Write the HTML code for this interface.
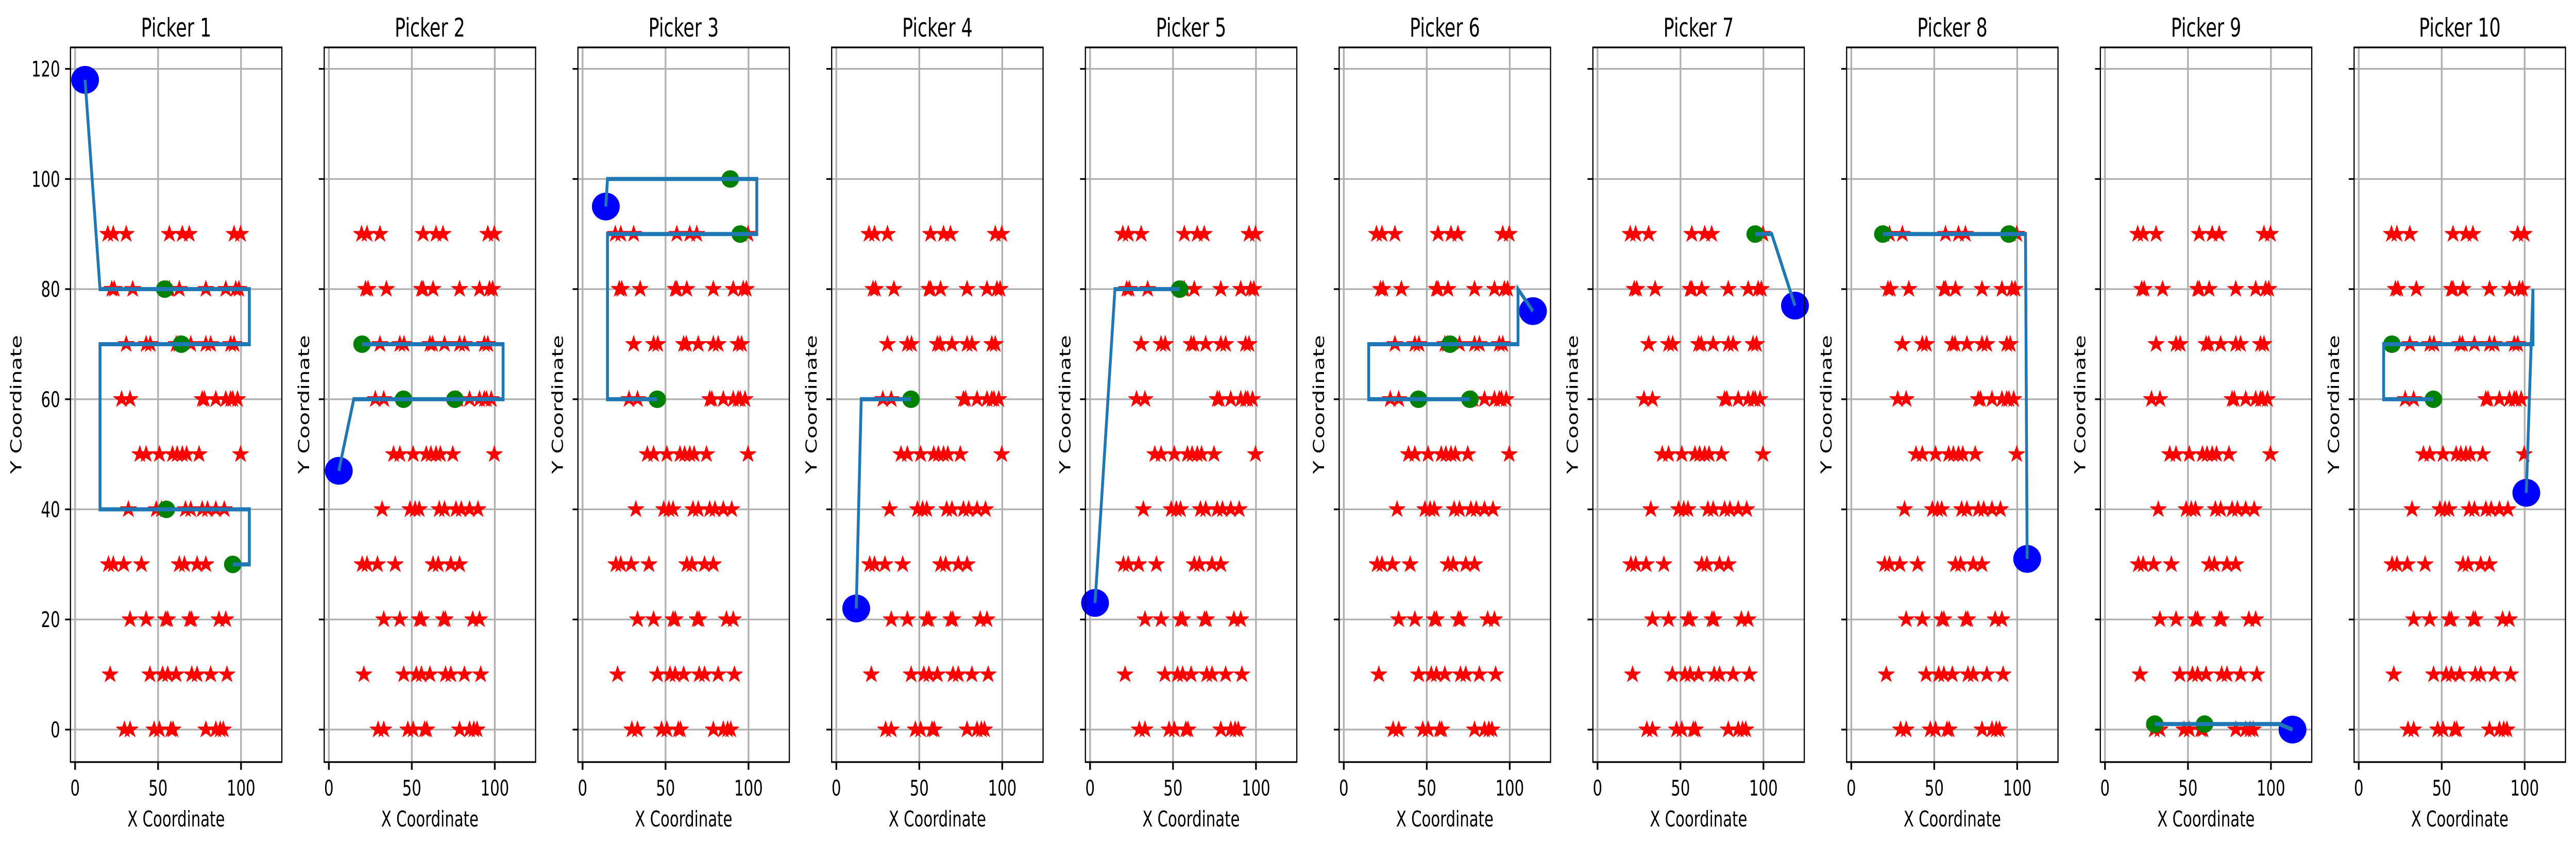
<!DOCTYPE html>
<html><head><meta charset="utf-8"><style>
html,body{margin:0;padding:0;background:#fff;overflow:hidden;width:100vw;height:100vh;}
svg{display:block;width:100vw;height:100vh;font-family:"DejaVu Sans","Liberation Sans",sans-serif;}
</style></head><body>
<svg id="fig" viewBox="0 0 7202 1638" preserveAspectRatio="none" xmlns="http://www.w3.org/2000/svg"></svg>
<script>
// Item (star) locations shared by all pickers
const starRows = [90,80,70,60,50,40,30,20,10,0];
const starRowX = [
  [19.7,23.0,30.8,56.8,64.6,68.8,95.8,99.7],
  [22.1,23.6,34.7,55.8,56.8,62.8,78.8,90.8,96.8,98.7],
  [30.8,42.8,45.3,60.9,62.5,69.7,78.8,81.7,93.7,95.8],
  [28.0,33.1,76.6,77.9,84.8,90.8,93.7,95.0,97.9],
  [39.0,42.8,50.8,58.7,61.5,64.6,67.2,74.7,99.7],
  [32.1,48.9,52.0,54.5,66.5,69.7,76.6,79.8,84.8,89.9],
  [20.1,23.0,29.3,40.0,62.8,65.9,73.5,78.8],
  [33.1,42.8,54.5,55.8,69.0,70.2,86.7,90.8],
  [21.1,45.1,52.7,55.8,60.9,70.3,73.5,81.7,91.5],
  [29.7,33.1,47.6,50.8,57.7,59.0,78.8,84.8,87.4,89.3]
];
// Picker routes
const pickerNames = ["Picker 1","Picker 2","Picker 3","Picker 4","Picker 5","Picker 6","Picker 7","Picker 8","Picker 9","Picker 10"];
const routeX = [
  [6,15,105,105,15,15,105,105,95],
  [6,15,105,105,20],
  [14,15,105,105,15,15,45],
  [12,15,45],
  [3,15,54],
  [114,105,105,15,15,76],
  [119,105,95],
  [106,105,19],
  [113,105,30],
  [101,105,105,15,15,45]
];
const routeY = [
  [118,80,80,70,70,40,40,30,30],
  [47,60,60,70,70],
  [95,100,100,90,90,60,60],
  [22,60,60],
  [23,80,80],
  [76,80,70,70,60,60],
  [77,90,90],
  [31,90,90],
  [0,1,1],
  [43,80,70,70,60,60]
];
const startX = [6,6,14,12,3,114,119,106,113,101];
const startY = [118,47,95,22,23,76,77,31,0,43];
const pickX = [[54,64,55,95],[20,45,76],[89,95,45],[45],[54],[64,45,76],[95],[19,95],[30,60],[20,45]];
const pickY = [[80,70,40,30],[70,60,60],[100,90,60],[60],[80],[70,60,60],[90],[90,90],[1,1],[70,60]];
const xTicks = [0,50,100];
const yTicks = [0,20,40,60,80,100,120];

const NS="http://www.w3.org/2000/svg";
const svg=document.getElementById('fig');
function mk(tag,attrs,parent){const e=document.createElementNS(NS,tag);for(const k in attrs)e.setAttribute(k,attrs[k]);(parent||svg).appendChild(e);return e;}
const W=window.innerWidth||7202, H=window.innerHeight||1638;
let K=(H/1638)/(W/7202); if(!isFinite(K)||K<=0) K=1;
const XMIN=-2.8,XMAX=124.6,YMIN=-5.9,YMAX=123.9;
const AX_W=591,AX_T=92,AX_B=1479,PITCH=709.4,LEFT0=197;
function starPath(cx,cy,R){const r=R*0.381966;let d="";for(let i=0;i<10;i++){const a=-Math.PI/2+i*Math.PI/5;const rr=i%2?r:R;d+=(i?"L":"M")+(cx+rr*K*Math.cos(a)).toFixed(1)+","+(cy+rr*Math.sin(a)).toFixed(1);}return d+"Z";}

for(let p=0;p<10;p++){
  const L=LEFT0+p*PITCH;
  const sx=v=>L+(v-XMIN)/(XMAX-XMIN)*AX_W;
  const sy=v=>AX_B-(v-YMIN)/(YMAX-YMIN)*(AX_B-AX_T);
  const g=mk('g',{});
  
  
  mk('rect',{x:L,y:AX_T,width:AX_W,height:AX_B-AX_T,fill:'#fff'},g);
  xTicks.forEach(t=>{const l=mk('line',{x1:sx(t),x2:sx(t),y1:AX_T,y2:AX_B,stroke:'#b0b0b0','stroke-width':3.3*K},g);
    });
  yTicks.forEach(t=>{const l=mk('line',{x1:L,x2:L+AX_W,y1:sy(t),y2:sy(t),stroke:'#b0b0b0','stroke-width':3.3},g);
    });
  starRows.forEach((yv,ri)=>{starRowX[ri].forEach(xv=>{
    const s=mk('path',{d:starPath(sx(xv),sy(yv),16.5),fill:'#ff0000',stroke:'#ff0000','stroke-width':1.5},g);
    
    
  });});
  pickX[p].forEach((xv,i)=>{const c=mk('ellipse',{cx:sx(xv),cy:sy(pickY[p][i]),rx:17*K,ry:17,fill:'#008000'},g);
    });
  const b=mk('ellipse',{cx:sx(startX[p]),cy:sy(startY[p]),rx:27*K,ry:27,fill:'#0000ff'},g);
  
  
  let pts=routeX[p].map((xv,i)=>sx(xv).toFixed(1)+","+sy(routeY[p][i]).toFixed(1)).join(" ");
  const route=mk('polyline',{points:pts,fill:'none',stroke:'#1f77b4','stroke-width':8,'stroke-linejoin':'miter'},g);
  
  
  const sp=mk('rect',{x:L,y:AX_T,width:AX_W,height:AX_B-AX_T,fill:'none',stroke:'#000','stroke-width':3.3},g);
  
  
  xTicks.forEach(t=>{mk('line',{x1:sx(t),x2:sx(t),y1:AX_B,y2:AX_B+15,stroke:'#000','stroke-width':3.3*K},g);
    const tx=mk('text',{x:sx(t),y:1544,'font-size':42,'text-anchor':'middle',fill:'#000'},g);tx.textContent=t;
    });
  yTicks.forEach(t=>{mk('line',{x1:L-15,x2:L,y1:sy(t),y2:sy(t),stroke:'#000','stroke-width':3.3},g);
    if(p===0){const ty=mk('text',{x:L-29,y:sy(t)+15,'font-size':42,'text-anchor':'end',fill:'#000'},g);ty.textContent=t;
      }});
  const xl=mk('text',{x:L+AX_W/2,y:1604,'font-size':42,'text-anchor':'middle',fill:'#000'},g);
  xl.textContent='X Coordinate';
  
  
  const yx=p===0?L-137:L-42;
  const yl=mk('text',{x:yx,y:785,'font-size':42,'text-anchor':'middle',fill:'#000',transform:'rotate(-90 '+yx+' 785)'},g);
  yl.textContent='Y Coordinate';
  
  
  const tt=mk('text',{x:L+AX_W/2,y:71,'font-size':50,'text-anchor':'middle',fill:'#000'},g);
  tt.textContent=pickerNames[p];
  
  
}
</script>
</body></html>
